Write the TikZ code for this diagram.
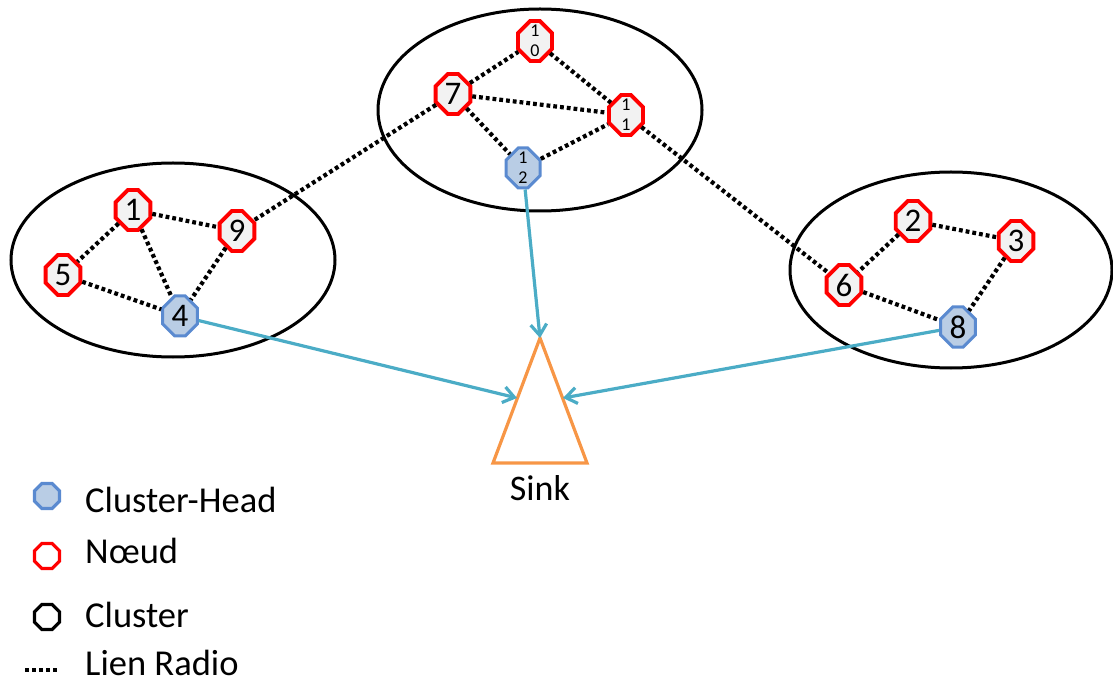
\documentclass[tikz,border=0pt]{standalone}
\usepackage{fontspec}
\setmainfont{Carlito}
\usetikzlibrary{shapes.misc,shapes.geometric,arrows.meta}
\definecolor{nred}{HTML}{FF0000}
\definecolor{nfill}{HTML}{F2F2F2}
\definecolor{chfill}{HTML}{B9CDE5}
\definecolor{chline}{HTML}{5A8AD0}
\definecolor{arr}{HTML}{4BACC6}
\definecolor{sinkc}{HTML}{F79646}
\tikzset{
  oct/.style={chamfered rectangle, chamfered rectangle xsep=9pt, inner sep=0pt,
    minimum width=34pt, minimum height=40pt, line width=3.8pt,
    font=\fontsize{33}{35}\selectfont},
  nd/.style={oct, draw=nred, fill=nfill},
  ch/.style={oct, draw=chline, fill=chfill, line width=3pt},
  small/.style={font=\fontsize{18}{20}\selectfont, align=center},
  radio/.style={line width=4.2pt, dash pattern=on 3.8pt off 3pt},
  uplink/.style={draw=arr, line width=3.2pt, -{Straight Barb[length=11pt,width=16pt,line width=3.2pt]}},
  cluster/.style={line width=3pt},
  legtxt/.style={anchor=base west, inner sep=0pt, font=\fontsize{36.5}{40}\selectfont},
  legoct/.style={regular polygon, regular polygon sides=8, minimum size=27pt, inner sep=0pt, line width=3.2pt}
}
\begin{document}
\begin{tikzpicture}[x=1pt,y=-1pt]
\useasboundingbox (0,0) rectangle (1113,684);
% clusters
\draw[cluster] (540,110) ellipse [x radius=162pt, y radius=101pt];
\draw[cluster] (173,260) ellipse [x radius=162pt, y radius=97pt];
\draw[cluster] (951,270) ellipse [x radius=161pt, y radius=98pt];
% nodes
\node[nd, small] (n10) at (535,41) {1\\0};
\node[nd] (n7) at (453,94) {7};
\node[nd, small] (n11) at (626,115) {1\\1};
\node[ch, small] (n12) at (523,168) {1\\2};
\node[nd] (n1) at (133,210) {1};
\node[nd] (n9) at (237,231) {9};
\node[nd] (n5) at (63,275) {5};
\node[ch] (n4) at (180,316) {4};
\node[nd] (n2) at (913,221) {2};
\node[nd] (n3) at (1016,241) {3};
\node[nd] (n6) at (844,285) {6};
\node[ch] (n8) at (958,327) {8};
% radio links
\draw[radio] (n7) -- (n10);
\draw[radio] (n10) -- (n11);
\draw[radio] (n7) -- (n11);
\draw[radio] (n7) -- (n12);
\draw[radio] (n12) -- (n11);
\draw[radio] (n7) -- (n9);
\draw[radio] (n11) -- (n6);
\draw[radio] (n1) -- (n9);
\draw[radio] (n1) -- (n5);
\draw[radio] (n1) -- (n4);
\draw[radio] (n5) -- (n4);
\draw[radio] (n9) -- (n4);
\draw[radio] (n2) -- (n6);
\draw[radio] (n2) -- (n3);
\draw[radio] (n3) -- (n8);
\draw[radio] (n6) -- (n8);
% sink
\coordinate (sTop) at (540,338);
\coordinate (sBL) at (493,463);
\coordinate (sBR) at (587,463);
\coordinate (sL) at (517,398);
\coordinate (sR) at (563,398);
\draw[sinkc, line width=3.2pt, line join=miter] (sTop) -- (sBL) -- (sBR) -- cycle;
\node[anchor=base, inner sep=0pt, font=\fontsize{36}{40}\selectfont] (sink) at (540,500) {Sink};
% uplinks
\draw[uplink] (n12) -- (sTop);
\draw[uplink] (n4) -- (sL);
\draw[uplink] (n8) -- (sR);
% legend
\node[legoct, draw=chline, fill=chfill] (l1) at (47,496) {};
\node[legtxt] (t1) at (85,512) {Cluster-Head};
\node[legoct, draw=nred, fill=white] (l2) at (47,556) {};
\node[legtxt] (t2) at (85,563) {Nœud};
\node[legoct, draw=black, fill=white] (l3) at (47,617) {};
\node[legtxt] (t3) at (85,627) {Cluster};
\coordinate (d1) at (25,670);
\coordinate (d2) at (60,670);
\draw[line width=3.5pt, dash pattern=on 3.5pt off 3.5pt] (d1) -- (d2);
\node[legtxt] (t4) at (85,675) {Lien Radio};
\end{tikzpicture}
\end{document}
